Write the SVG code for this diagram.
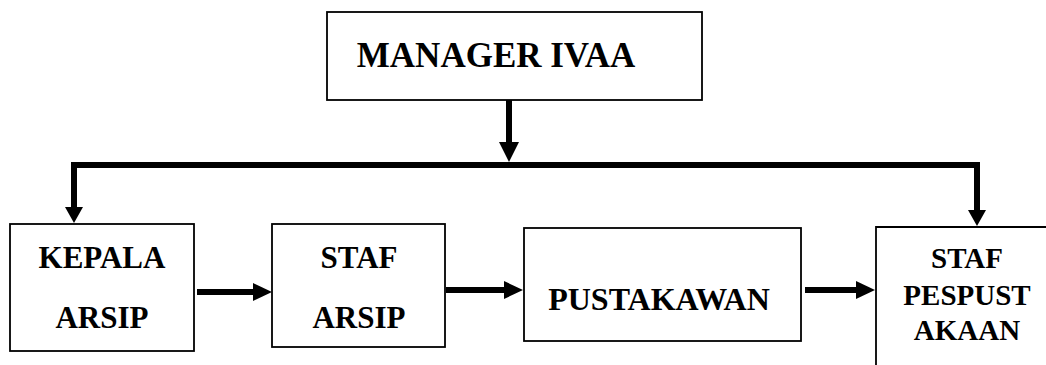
<svg xmlns="http://www.w3.org/2000/svg" width="1046" height="365" viewBox="0 0 1046 365">
<defs>
<polygon id="headDown" points="-9,-16 9,-16 0,0" fill="#000"/>
<polygon id="headRight" points="-19,-9 -19,9 0,0" fill="#000"/>
</defs>
<rect width="1046" height="365" fill="#fff"/>
<g id="connectors" fill="none" stroke="#000" stroke-width="6">
<line x1="509" y1="100" x2="509" y2="145"/>
<polygon points="499,142 519,142 509,162" fill="#000" stroke="none"/>
<polyline points="74,210 74,165 977,165 977,210"/>
<use href="#headDown" x="74" y="223" stroke="none"/>
<use href="#headDown" x="977" y="226" stroke="none"/>
<line x1="197" y1="292" x2="256" y2="292"/>
<use href="#headRight" x="272" y="292" stroke="none"/>
<line x1="446" y1="290" x2="508" y2="290"/>
<use href="#headRight" x="523" y="290" stroke="none"/>
<line x1="805" y1="290" x2="860" y2="290"/>
<use href="#headRight" x="875" y="290" stroke="none"/>
</g>
<g id="manager">
<rect x="327" y="12" width="375" height="88" fill="#fff" stroke="#000" stroke-width="1.8"/>
<text x="496" y="67" text-anchor="middle" font-size="35" font-weight="bold" font-family="Times New Roman, Liberation Serif, serif">MANAGER IVAA</text>
</g>
<g id="kepala-arsip">
<rect x="10" y="224" width="184" height="127" fill="#fff" stroke="#000" stroke-width="1.8"/>
<text x="102" y="268" text-anchor="middle" font-size="31" font-weight="bold" font-family="Times New Roman, Liberation Serif, serif">KEPALA</text>
<text x="102" y="328" text-anchor="middle" font-size="31" font-weight="bold" font-family="Times New Roman, Liberation Serif, serif">ARSIP</text>
</g>
<g id="staf-arsip">
<rect x="272" y="224" width="173" height="123" fill="#fff" stroke="#000" stroke-width="1.8"/>
<text x="359" y="268" text-anchor="middle" font-size="31" font-weight="bold" font-family="Times New Roman, Liberation Serif, serif">STAF</text>
<text x="359" y="328" text-anchor="middle" font-size="31" font-weight="bold" font-family="Times New Roman, Liberation Serif, serif">ARSIP</text>
</g>
<g id="pustakawan">
<rect x="524" y="228" width="277" height="113" fill="#fff" stroke="#000" stroke-width="1.8"/>
<text x="659" y="310" text-anchor="middle" font-size="32" font-weight="bold" font-family="Times New Roman, Liberation Serif, serif">PUSTAKAWAN</text>
</g>
<g id="staf-pespustakaan">
<path d="M876,366 V227 H1047 V366" fill="#fff" stroke="#000" stroke-width="1.8"/>
<text x="967" y="268" text-anchor="middle" font-size="29" font-weight="bold" font-family="Times New Roman, Liberation Serif, serif">STAF</text>
<text x="967" y="305" text-anchor="middle" font-size="29" font-weight="bold" font-family="Times New Roman, Liberation Serif, serif">PESPUST</text>
<text x="967" y="340" text-anchor="middle" font-size="29" font-weight="bold" font-family="Times New Roman, Liberation Serif, serif">AKAAN</text>
</g>
</svg>
